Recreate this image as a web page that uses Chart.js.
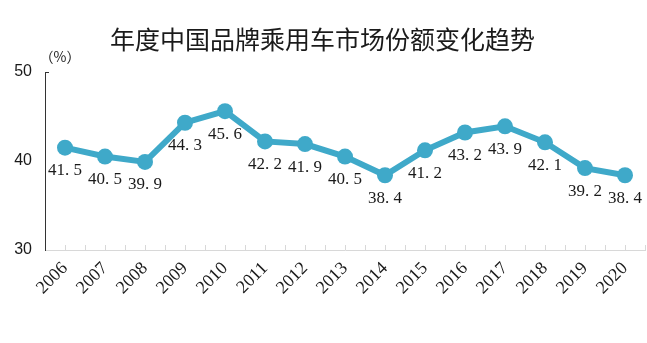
<!DOCTYPE html>
<html>
<head>
<meta charset="utf-8">
<script src="https://cdn.jsdelivr.net/npm/chart.js@4"></script>
<style>
  html, body { margin: 0; padding: 0; background: #fff; }
  #wrap { width: 647px; height: 343px; }
</style>
</head>
<body>
<div id="wrap"><canvas id="c" width="647" height="343"></canvas></div>
<script>
// 年度中国品牌乘用车市场份额 (%)
const years = ['2006','2007','2008','2009','2010','2011','2012','2013','2014','2015','2016','2017','2018','2019','2020'];
const share = [41.5, 40.5, 39.9, 44.3, 45.6, 42.2, 41.9, 40.5, 38.4, 41.2, 43.2, 43.9, 42.1, 39.2, 38.4];
const yTicks = [30, 40, 50];

const LINE_COLOR = '#3fa9c9';
const SERIF = '"Liberation Serif", "DejaVu Serif", serif';
const RIGHT_GAP = 2;

// Let the plot run almost to the right edge of the canvas
const stretchRight = {
  id: 'stretchRight',
  afterLayout(chart) {
    const x = chart.scales.x;
    const right = chart.width - RIGHT_GAP;
    x.right = right;
    x.width = right - x.left;
    x.configure();
    chart.chartArea.right = right;
    chart.chartArea.width = right - chart.chartArea.left;
  }
};

// Value labels under each point, the "(%)" unit, and small inward ticks on the x axis
const decorations = {
  id: 'decorations',
  afterDatasetsDraw(chart) {
    const ctx = chart.ctx;
    const meta = chart.getDatasetMeta(0);
    ctx.save();
    ctx.fillStyle = '#1a1a1a';
    ctx.font = '17px ' + SERIF;
    ctx.textAlign = 'center';
    ctx.textBaseline = 'middle';
    meta.data.forEach((pt, i) => {
      ctx.fillText(share[i].toFixed(1).replace('.', '. '), pt.x, pt.y + 23);
    });
    ctx.restore();
  },
  afterDraw(chart) {
    const ctx = chart.ctx;
    const x = chart.scales.x, y = chart.scales.y;
    ctx.save();
    // unit
    ctx.fillStyle = '#1a1a1a';
    ctx.font = '14px "Noto Sans CJK SC", sans-serif';
    ctx.textAlign = 'center';
    ctx.textBaseline = 'middle';
    ctx.fillText('（%）', x.left + 15, y.top - 15);
    // short tick at the top of the y axis
    ctx.strokeStyle = '#333';
    ctx.lineWidth = 1;
    ctx.beginPath();
    ctx.moveTo(x.left, y.top + 0.5);
    ctx.lineTo(x.left + 4, y.top + 0.5);
    ctx.stroke();
    // inward ticks on the x axis, at category centres and boundaries
    ctx.strokeStyle = '#d8d8d8';
    ctx.beginPath();
    const step = (x.right - x.left) / years.length;
    for (let k = 1; k <= years.length * 2; k++) {
      const px = Math.round(x.left + k * step / 2) + 0.5;
      ctx.moveTo(px, y.bottom);
      ctx.lineTo(px, y.bottom - 5);
    }
    ctx.stroke();
    ctx.restore();
  }
};

new Chart(document.getElementById('c'), {
  type: 'line',
  data: {
    labels: years,
    datasets: [{
      data: share,
      borderColor: LINE_COLOR,
      backgroundColor: LINE_COLOR,
      borderWidth: 6,
      pointRadius: 8,
      pointHoverRadius: 8,
      pointBorderWidth: 0,
      tension: 0
    }]
  },
  options: {
    responsive: false,
    animation: false,
    layout: { padding: { left: 0, right: RIGHT_GAP, top: 0, bottom: 0 } },
    plugins: {
      legend: { display: false },
      tooltip: { enabled: false },
      title: {
        display: true,
        text: '年度中国品牌乘用车市场份额变化趋势',
        color: '#1a1a1a',
        font: { family: '"Noto Sans CJK SC", sans-serif', size: 25, weight: 'normal' },
        padding: { top: 24, bottom: 18 }
      }
    },
    scales: {
      x: {
        offset: true,
        afterFit(scale) { scale.height = 93; },
        grid: { display: false, drawTicks: false },
        border: { display: true, color: '#d8d8d8', width: 1 },
        ticks: {
          color: '#1a1a1a',
          font: { family: SERIF, size: 18 },
          minRotation: 45,
          maxRotation: 45,
          padding: 8
        }
      },
      y: {
        min: 30,
        max: 50,
        afterBuildTicks(scale) { scale.ticks = yTicks.map(v => ({ value: v })); },
        afterFit(scale) { scale.width = 45; },
        grid: { display: false, drawTicks: false },
        border: { display: true, color: '#333', width: 1 },
        ticks: {
          color: '#1a1a1a',
          font: { family: '"Liberation Sans", Arial, sans-serif', size: 16 },
          padding: 13
        }
      }
    }
  },
  plugins: [stretchRight, decorations]
});
</script>
</body>
</html>
